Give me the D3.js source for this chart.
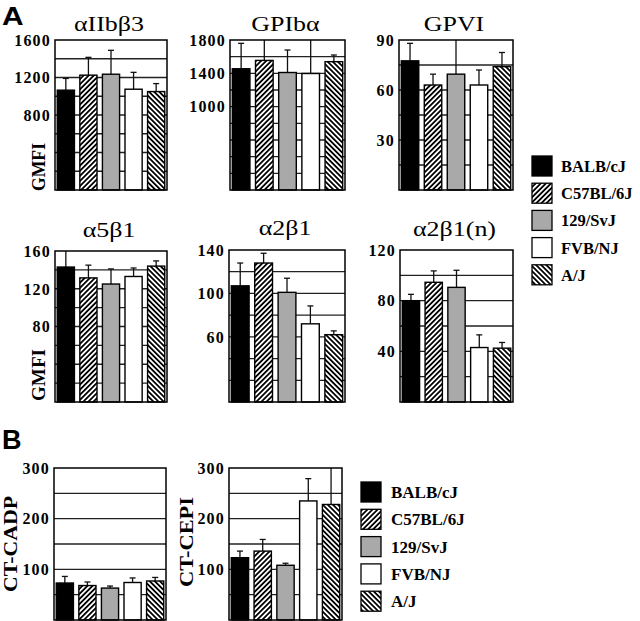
<!DOCTYPE html>
<html><head><meta charset="utf-8">
<script src="https://cdn.jsdelivr.net/npm/d3@7"></script>
<style>
html,body{margin:0;padding:0;background:#fff;}
svg{display:block;}
</style></head>
<body>
<svg id="chart" width="640" height="621"></svg>
<script>
// ---------- DATA ----------
const strains = ["BALB/cJ","C57BL/6J","129/SvJ","FVB/NJ","A/J"];
const fills = ["#000000","url(#hatchF)","#a9a9a9","#ffffff","url(#hatchB)"];

const titles = ["αIIbβ3","GPIbα","GPVI","α5β1","α2β1","α2β1(n)","",""];
const yLabels = ["GMFI","","","GMFI","","","CT-CADP","CT-CEPI"];
const yMax   = [1600,1800,90,160,140,120,300,300];
const gridStep = [200,200,15,20,20,20,50,50];
const tickLabels = [[1600,1200,800],[1800,1400,1000],[90,60,30],[160,120,80],[140,100,60],[120,80,40],[300,200,100],[300,200,100]];

const meanIIb  = [1065,1225,1235,1075,1050];
const sdIIb    = [125,190,255,180,85];
const meanGPIb = [1455,1555,1410,1398,1540];
const sdGPIb   = [305,400,270,450,80];
const meanGPVI = [77.5,63,69.5,63,74];
const sdGPVI   = [10.5,6.5,21,9,8.5];
const meanA5B1 = [143,131.5,125,133,144];
const sdA5B1   = [17,13.5,16,9,5.5];
const meanA2B1 = [107,128,101,72,62];
const sdA2B1   = [21,9,13,16.5,3.5];
const meanA2B1n= [80,94.5,90.5,43,42.5];
const sdA2B1n  = [5,9,13.5,10,4.5];
const meanCADP = [73,68,63,74,77];
const sdCADP   = [13,7,4,9,7];
const meanCEPI = [123,136,108,235,228];
const sdCEPI   = [13,23,4,44,80];

const means = [meanIIb,meanGPIb,meanGPVI,meanA5B1,meanA2B1,meanA2B1n,meanCADP,meanCEPI];
const sds   = [sdIIb,sdGPIb,sdGPVI,sdA5B1,sdA2B1,sdA2B1n,sdCADP,sdCEPI];

// ---------- LAYOUT ----------
const boxes = [
  {x0:55,x1:167,y0:40,y1:190},
  {x0:230,x1:345,y0:40,y1:190},
  {x0:399,x1:513,y0:40,y1:190},
  {x0:55,x1:167,y0:251,y1:402},
  {x0:229,x1:345,y0:250,y1:402},
  {x0:400,x1:513,y0:250,y1:402},
  {x0:54,x1:166,y0:468,y1:620},
  {x0:229,x1:342,y0:468,y1:620}
];
const titleY = [31,31,31,237,235,236];
const ylabPos = [
  {x:45,y:191,anchor:"start",size:18,len:48},null,null,
  {x:45,y:401,anchor:"start",size:18,len:52},null,null,
  {x:17,y:544,anchor:"middle",size:19,len:96},
  {x:193,y:542,anchor:"middle",size:19,len:90}
];

const svg = d3.select("#chart");
const defs = svg.append("defs");
function hatch(id, angle){
  const p = defs.append("pattern").attr("id",id).attr("patternUnits","userSpaceOnUse")
    .attr("width",3.6).attr("height",3.6).attr("patternTransform",`rotate(${angle})`);
  p.append("rect").attr("width",3.6).attr("height",3.6).attr("fill","#fff");
  p.append("line").attr("x1",0.9).attr("y1",0).attr("x2",0.9).attr("y2",3.6)
    .attr("stroke","#000").attr("stroke-width",1.8);
}
hatch("hatchF",45);
hatch("hatchB",-45);

const serif = "'Liberation Serif','Times New Roman',serif";

boxes.forEach((b,i)=>{
  const g = svg.append("g");
  const x = d3.scaleBand().domain(strains).range([b.x0,b.x1]).paddingInner(0.24).paddingOuter(0.1);
  const y = d3.scaleLinear().domain([0,yMax[i]]).range([b.y1,b.y0]);
  // grid
  const gridVals = d3.range(gridStep[i], yMax[i], gridStep[i]);
  g.selectAll("line.grid").data(gridVals).enter().append("line")
    .attr("x1",b.x0).attr("x2",b.x1).attr("y1",d=>y(d)).attr("y2",d=>y(d))
    .attr("stroke","#222").attr("stroke-width",1.3);
  const data = strains.map((s,k)=>({s,k,m:means[i][k],sd:sds[i][k]}));
  // error bars
  data.forEach(d=>{
    const cx = x(d.s)+x.bandwidth()/2;
    const top = d.m + d.sd;
    const clipped = top >= yMax[i];
    const yt = y(Math.min(top,yMax[i]));
    g.append("line").attr("x1",cx).attr("x2",cx).attr("y1",y(d.m)).attr("y2",yt)
      .attr("stroke","#111").attr("stroke-width",1.3);
    if(!clipped) g.append("line").attr("x1",cx-3).attr("x2",cx+3).attr("y1",yt).attr("y2",yt)
      .attr("stroke","#111").attr("stroke-width",1.3);
  });
  // bars
  g.selectAll("rect.bar").data(data).enter().append("rect")
    .attr("x",d=>x(d.s)).attr("width",x.bandwidth())
    .attr("y",d=>y(d.m)).attr("height",d=>b.y1-y(d.m))
    .attr("fill",d=>fills[d.k]).attr("stroke","#000").attr("stroke-width",1.4);
  // frame
  g.append("rect").attr("x",b.x0).attr("y",b.y0).attr("width",b.x1-b.x0).attr("height",b.y1-b.y0)
    .attr("fill","none").attr("stroke","#000").attr("stroke-width",1.5);
  // tick labels
  g.selectAll("text.tick").data(tickLabels[i]).enter().append("text")
    .attr("x",b.x0-4).attr("y",d=>y(d)).attr("dy","0.36em")
    .attr("text-anchor","end").attr("font-family",serif).attr("font-weight","bold")
    .attr("font-size",16).attr("letter-spacing",1.2).text(d=>d);
  // title
  if(titles[i]) g.append("text")
    .attr("transform",`translate(${(b.x0+b.x1)/2 - 2},${titleY[i]}) scale(1.18,1)`)
    .attr("text-anchor","middle").attr("font-family",serif).attr("font-size",22).text(titles[i]);
  // y label
  if(ylabPos[i]){
    const p = ylabPos[i];
    g.append("text").attr("transform",`translate(${p.x},${p.y}) rotate(-90)`)
      .attr("text-anchor",p.anchor).attr("font-family",serif).attr("font-weight","bold")
      .attr("font-size",p.size).attr("textLength",p.len).attr("lengthAdjust","spacingAndGlyphs")
      .text(yLabels[i]);
  }
});

// legends
function legend(x0,y0,step,tx,size){
  const g = svg.append("g");
  strains.forEach((s,k)=>{
    g.append("rect").attr("x",x0).attr("y",y0+k*step).attr("width",20).attr("height",20)
      .attr("fill",fills[k]).attr("stroke","#000").attr("stroke-width",1.3);
    g.append("text").attr("x",tx).attr("y",y0+k*step+10).attr("dy","0.36em")
      .attr("font-family",serif).attr("font-weight","bold").attr("font-size",size).text(s);
  });
}
legend(532,156,27.2,561,16.5);
legend(361,482,27.3,391,17);

// panel letters
svg.append("text").attr("transform","translate(2,25) scale(1.15,1)").attr("font-family","'Liberation Sans',Arial,sans-serif")
  .attr("font-weight","bold").attr("font-size",26).text("A");
svg.append("text").attr("x",2).attr("y",449).attr("font-family","'Liberation Sans',Arial,sans-serif")
  .attr("font-weight","bold").attr("font-size",27).text("B");
</script>
</body></html>
